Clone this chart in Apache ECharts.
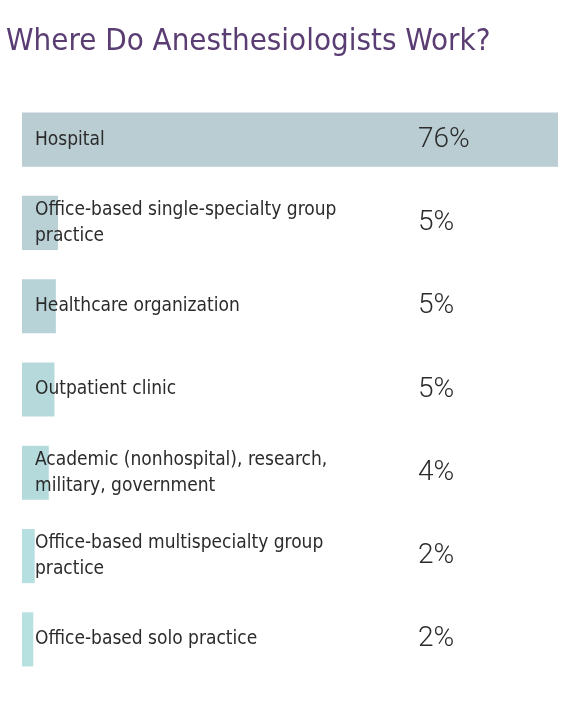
<!DOCTYPE html>
<html>
<head>
<meta charset="utf-8">
<script src="https://cdn.jsdelivr.net/npm/echarts@6/dist/echarts.min.js"></script>
<style>
  html, body { margin: 0; padding: 0; background: #fff; }
  #main { width: 580px; height: 721px; }
</style>
</head>
<body>
<div id="main"></div>
<script>
const categories = [
  'Hospital',
  'Office-based single-specialty group\npractice',
  'Healthcare organization',
  'Outpatient clinic',
  'Academic (nonhospital), research,\nmilitary, government',
  'Office-based multispecialty group\npractice',
  'Office-based solo practice'
];
// bar lengths as drawn (the printed labels are rounded)
const values = [76, 5.1, 4.8, 4.6, 3.8, 1.8, 1.6];
const valueLabels = ['76%', '5%', '5%', '5%', '4%', '2%', '2%'];

const barColors = ['#b9cdd2', '#b9d0d5', '#b8d3d7', '#b6d9dc', '#b5dadc', '#b5dfe0', '#b7e1e1'];
const narrow = "'Liberation Sans Narrow', 'DejaVu Sans Condensed', sans-serif";

const chart = echarts.init(document.getElementById('main'));

const option = {
  animation: false,
  title: {
    text: 'Where Do Anesthesiologists Work?',
    left: 1,
    top: 21,
    textStyle: {
      color: '#5a3d72',
      fontSize: 31,
      fontWeight: 'normal',
      fontFamily: narrow
    }
  },
  grid: { left: 22, right: 22, top: 98, bottom: 40 },
  xAxis: {
    type: 'value',
    min: 0,
    max: 'dataMax',
    show: false
  },
  yAxis: [
    {
      type: 'category',
      inverse: true,
      data: categories,
      z: 5,
      axisLine: { show: false },
      axisTick: { show: false },
      axisLabel: {
        inside: true,
        margin: 13,
        color: '#2b2b2b',
        fontSize: 19,
        lineHeight: 26,
        fontFamily: narrow
      }
    },
    {
      type: 'category',
      inverse: true,
      position: 'right',
      data: valueLabels,
      z: 5,
      axisLine: { show: false },
      axisTick: { show: false },
      axisLabel: {
        margin: -140,
        align: 'left',
        color: '#2b2b2b',
        fontSize: 28,
        fontWeight: 300,
        fontFamily: 'Roboto, sans-serif'
      }
    }
  ],
  series: [
    {
      type: 'bar',
      data: values.map((v, i) => ({ value: v, itemStyle: { color: barColors[i] } })),
      barCategoryGap: '35%',
      silent: true
    }
  ]
};

chart.setOption(option);
</script>
</body>
</html>
